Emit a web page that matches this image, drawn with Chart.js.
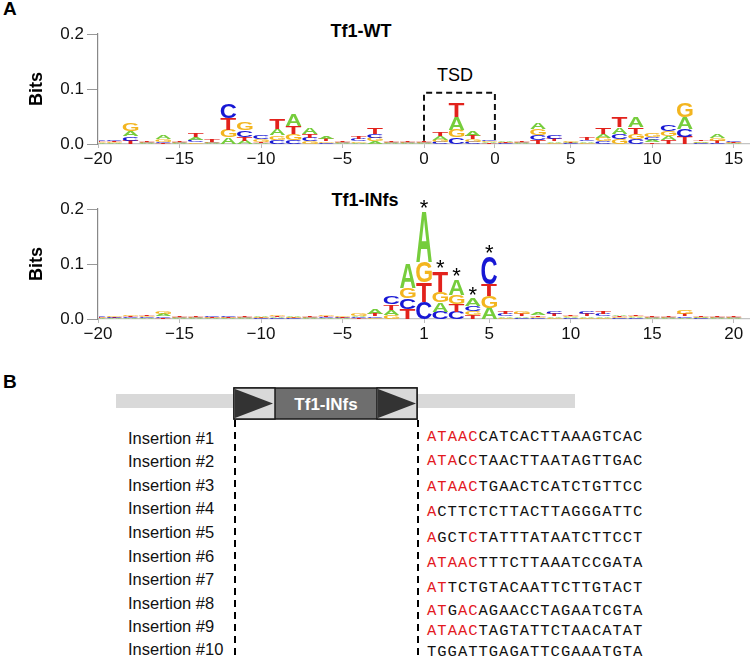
<!DOCTYPE html>
<html>
<head>
<meta charset="utf-8">
<script src="https://cdn.jsdelivr.net/npm/chart.js@4.4.1/dist/chart.umd.min.js"></script>
<style>
  body { margin: 0; width: 750px; height: 660px; position: relative; background: #fff; overflow: hidden;
         font-family: "Liberation Sans", Arial, Helvetica, sans-serif; color: #000; }
  canvas { position: absolute; left: 0; }
  #wt { top: 0; }
  #infs { top: 175px; }
  .panel { position: absolute; left: 3px; font-weight: bold; font-size: 19px; line-height: 20px; }
  .ttl { position: absolute; font-weight: bold; font-size: 18px; line-height: 20px; transform: translateX(-50%); white-space: nowrap; }
  .tsd { position: absolute; font-size: 18px; line-height: 20px; transform: translateX(-50%); }
  .ins { position: absolute; left: 128px; font-size: 16.5px; line-height: 20px; white-space: nowrap; color: #111; }
  .seq { position: absolute; left: 427px; font-family: "Liberation Mono", "Courier New", monospace; font-size: 15.5px;
         letter-spacing: 1px; line-height: 20px; white-space: nowrap; color: #111; }
  .seq .r { color: #e3191f; }
  svg { position: absolute; left: 0; top: 370px; }
</style>
</head>
<body>
<div class="panel" style="top:-1px">A</div>
<div class="ttl" style="left:361px; top:21px">Tf1-WT</div>
<div class="tsd" style="left:455px; top:65px">TSD</div>
<canvas id="wt" width="750" height="172"></canvas>
<div class="ttl" style="left:365px; top:190px">Tf1-INfs</div>
<canvas id="infs" width="750" height="172"></canvas>

<div class="panel" style="top:372px">B</div>
<svg width="750" height="290">
  <rect x="116" y="24" width="459" height="14" fill="#d9d9d9"/>
  <rect x="234" y="18" width="183" height="31" fill="#6e6e6e" stroke="#1a1a1a" stroke-width="1.5"/>
  <rect x="234" y="18" width="41" height="31" fill="#d9d9d9" stroke="#1a1a1a" stroke-width="1.5"/>
  <polygon points="235,19 235,48 273,33.5" fill="#333"/>
  <rect x="377" y="18" width="40" height="31" fill="#d9d9d9" stroke="#1a1a1a" stroke-width="1.5"/>
  <polygon points="378,19 378,48 416,33.5" fill="#333"/>
  <text x="326" y="39.5" fill="#fff" font-weight="bold" font-size="17" text-anchor="middle"
        font-family="Liberation Sans, Arial, sans-serif">Tf1-INfs</text>
  <line x1="235" y1="50" x2="235" y2="290" stroke="#000" stroke-width="2" stroke-dasharray="7 5"/>
  <line x1="418" y1="50" x2="418" y2="290" stroke="#000" stroke-width="2" stroke-dasharray="7 5"/>
</svg>
<div id="rows"></div>

<script>
// positions along the logo (index), tick positions and labels
const positions = [0,1,2,3,4,5,6,7,8,9,10,11,12,13,14,15,16,17,18,19,20,21,22,23,24,25,26,27,28,29,30,31,32,33,34,35,36,37,38,39];
const wtTickPos = [0, 5, 10, 15, 20, 24.35, 29, 34, 39];
const wtTickText = ['\u221220', '\u221215', '\u221210', '\u22125', '0', '0', '5', '10', '15'];
const infsTickPos = [0, 5, 10, 15, 20, 24, 29, 34, 39];
const infsTickText = ['\u221220', '\u221215', '\u221210', '\u22125', '1', '5', '10', '15', '20'];
const bitTicks = [0, 0.1, 0.2];

// Tf1-WT information content (bits) per base
const wtA = [.001,.001,.009,.001,.007,.001,.005,.001,.012,.006,.001,.012,.020,.012,.005,.001,.002,.005,.001,.001,
             .001,.007,.023,.009,.002,.002,.001,.012,.003,.002,.003,.007,.012,.018,.004,.008,.021,.003,.007,.001];
const wtC = [.003,.003,.008,.001,.003,.001,.004,.001,.027,.012,.006,.008,.008,.006,.002,.001,.004,.008,.001,.001,
             .001,.004,.012,.004,.003,.001,.001,.009,.006,.001,.003,.005,.010,.009,.005,.012,.015,.001,.002,.003];
const wtG = [.002,.002,.013,.001,.005,.001,.003,.002,.013,.013,.005,.008,.011,.005,.003,.001,.003,.006,.001,.001,
             .001,.004,.014,.005,.002,.001,.001,.011,.002,.002,.002,.006,.009,.010,.007,.009,.027,.001,.005,.001];
const wtT = [.002,.002,.006,.001,.001,.001,.008,.005,.021,.007,.003,.018,.013,.007,.004,.003,.004,.012,.001,.001,
             .003,.008,.026,.006,.001,.001,.001,.007,.004,.001,.005,.011,.018,.012,.003,.007,.013,.003,.004,.002];

// Tf1-INfs information content (bits) per base
const infsA = [.001,.001,.001,.001,.004,.001,.001,.001,.001,.001,.003,.002,.003,.001,.001,.001,.003,.009,.009,.045,
               .091,.017,.028,.013,.020,.003,.003,.004,.003,.002,.003,.003,.003,.002,.001,.001,.002,.002,.001,.001];
const infsC = [.003,.002,.002,.002,.003,.001,.001,.002,.002,.001,.001,.001,.001,.001,.002,.001,.002,.003,.013,.019,
               .031,.013,.013,.009,.049,.004,.002,.001,.005,.001,.005,.004,.001,.001,.001,.001,.003,.001,.001,.001];
const infsG = [.001,.002,.003,.002,.005,.001,.001,.001,.001,.001,.002,.003,.002,.001,.003,.003,.005,.002,.008,.020,
               .037,.019,.016,.008,.021,.002,.005,.003,.002,.002,.002,.002,.002,.002,.002,.001,.006,.001,.001,.001];
const infsT = [.001,.001,.002,.002,.002,.001,.001,.001,.001,.001,.001,.002,.001,.001,.002,.002,.001,.005,.010,.018,
               .035,.037,.014,.007,.022,.005,.004,.003,.004,.002,.004,.005,.002,.002,.002,.001,.004,.003,.002,.001];

const starred = [20, 21, 22, 23, 24];
const tsdRange = [20, 24.35];

// part B
const insertions = ['Insertion #1','Insertion #2','Insertion #3','Insertion #4','Insertion #5',
                    'Insertion #6','Insertion #7','Insertion #8','Insertion #9','Insertion #10'];
const sequences = ['ATAACCATCACTTAAAGTCAC','ATACCTAACTTAATAGTTGAC','ATAACTGAACTCATCTGTTCC','ACTTCTCTTACTTAGGGATTC',
                   'AGCTCTATTTATAATCTTCCT','ATAACTTTCTTAAATCCGATA','ATTCTGTACAATTCTTGTACT','ATGACAGAACCTAGAATCGTA',
                   'ATAACTAGTATTCTAACATAT','TGGATTGAGATTCGAAATGTA'];
const redMask = ['11111','11101','11111','1','10001','11111','11','11011','11111',''];
const labelY = [437.5, 461, 484.5, 508, 532, 556, 579, 603, 626, 649];
const seqY = [436, 460, 486, 511, 537, 562, 587, 610, 630, 651];

const rows = document.getElementById('rows');
insertions.forEach((t, i) => {
  const d = document.createElement('div');
  d.className = 'ins'; d.style.top = (labelY[i] - 10) + 'px'; d.textContent = t;
  rows.appendChild(d);
  const s = document.createElement('div');
  s.className = 'seq'; s.style.top = (seqY[i] - 9) + 'px';
  s.innerHTML = sequences[i].split('').map((c, k) =>
    redMask[i][k] === '1' ? '<span class="r">' + c + '</span>' : c).join('');
  rows.appendChild(s);
});

const FONT = '"Liberation Sans", Arial, sans-serif';
const letterColors = {A: '#76cd3c', C: '#1717d4', G: '#f3b51f', T: '#e2221c'};
const glyphs = {};
function glyph(ch) {
  if (!glyphs[ch]) {
    const c = document.createElement('canvas').getContext('2d');
    c.font = 'bold 100px ' + FONT;
    const m = c.measureText(ch);
    glyphs[ch] = {l: m.actualBoundingBoxLeft, r: m.actualBoundingBoxRight,
                  a: m.actualBoundingBoxAscent, d: m.actualBoundingBoxDescent};
  }
  return glyphs[ch];
}

// draws stacked letters from the datasets, plus stars / TSD box
const logoPlugin = {
  id: 'logo',
  afterDatasetsDraw(chart, args, opts) {
    const {ctx, chartArea: area, scales: {x, y}} = chart;
    const sets = chart.data.datasets;
    const totals = [];
    ctx.save();
    ctx.beginPath();
    ctx.rect(area.left + 1, 0, area.right - area.left, area.bottom);
    ctx.clip();
    ctx.font = 'bold 100px ' + FONT;
    ctx.textAlign = 'left';
    ctx.textBaseline = 'alphabetic';
    sets[0].data.forEach((pt, i) => {
      const stack = sets.map(s => ({ch: s.label, v: s.data[i].y})).sort((a, b) => a.v - b.v);
      const x0 = x.getPixelForValue(pt.x - 0.48), x1 = x.getPixelForValue(pt.x + 0.48);
      let cum = 0;
      stack.forEach(s => {
        const yb = y.getPixelForValue(cum), yt = y.getPixelForValue(cum + s.v);
        cum += s.v;
        const h = yb - yt;
        if (h < 0.4) return;
        const g = glyph(s.ch);
        ctx.save();
        ctx.translate(x0, yb);
        ctx.scale((x1 - x0) / (g.l + g.r), h / (g.a + g.d));
        ctx.fillStyle = letterColors[s.ch];
        ctx.fillText(s.ch, g.l, -g.d);
        ctx.restore();
      });
      totals[pt.x] = cum;
    });
    ctx.restore();

    if (opts.stars) {
      ctx.save();
      ctx.font = '22px ' + FONT;
      ctx.fillStyle = '#000';
      ctx.textAlign = 'center';
      const m = ctx.measureText('*');
      opts.stars.forEach(p => {
        const cy = y.getPixelForValue(totals[p]) - 8;
        ctx.fillText('*', x.getPixelForValue(p), cy + (m.actualBoundingBoxAscent - m.actualBoundingBoxDescent) / 2);
      });
      ctx.restore();
    }
    if (opts.box) {
      const bx0 = x.getPixelForValue(opts.box[0]), bx1 = x.getPixelForValue(opts.box[1]);
      const top = y.getPixelForValue(0.093), bot = y.getPixelForValue(0.006);
      ctx.save();
      ctx.strokeStyle = '#111';
      ctx.lineWidth = 2;
      ctx.setLineDash([6, 4]);
      ctx.beginPath();
      ctx.moveTo(bx0, bot); ctx.lineTo(bx0, top); ctx.lineTo(bx1, top); ctx.lineTo(bx1, bot);
      ctx.stroke();
      ctx.restore();
    }
  }
};

function makeLogo(id, A, C, G, T, tickPos, tickText, extra) {
  return new Chart(document.getElementById(id), {
    type: 'scatter',
    data: {
      datasets: [['A', A], ['C', C], ['G', G], ['T', T]].map(([l, v]) => ({
        label: l,
        data: positions.map((p, i) => ({x: p, y: v[i]})),
        pointRadius: 0, showLine: false
      }))
    },
    plugins: [logoPlugin],
    options: {
      responsive: false, animation: false, events: [],
      layout: {padding: {top: 34, left: 0, right: 0, bottom: 0}},
      plugins: {legend: {display: false}, tooltip: {enabled: false}, logo: extra},
      scales: {
        x: {
          type: 'linear', min: 0, max: 40,
          afterBuildTicks: s => { s.ticks = tickPos.map(v => ({value: v})); },
          afterFit: s => { s.height = 28; },
          ticks: {callback: (v, i) => tickText[i], color: '#111', font: {size: 17, family: FONT},
                  padding: 1, maxRotation: 0, autoSkip: false},
          grid: {drawOnChartArea: false, tickLength: 4, color: '#bbb'},
          border: {color: '#c4c4c4', width: 1.2}
        },
        y: {
          min: 0, max: 0.2,
          afterBuildTicks: s => { s.ticks = bitTicks.map(v => ({value: v})); },
          afterFit: s => { s.width = 98; },
          ticks: {callback: v => v.toFixed(1), color: '#111', font: {size: 17, family: FONT}, padding: 3},
          grid: {drawOnChartArea: false, tickLength: 11, color: '#999'},
          border: {color: '#888', width: 1.2},
          title: {display: true, text: 'Bits', color: '#000', font: {size: 18, weight: 'bold', family: FONT},
                  padding: {top: 26, bottom: 0}}
        }
      }
    }
  });
}

makeLogo('wt', wtA, wtC, wtG, wtT, wtTickPos, wtTickText, {box: tsdRange});
makeLogo('infs', infsA, infsC, infsG, infsT, infsTickPos, infsTickText, {stars: starred});
</script>
</body>
</html>
